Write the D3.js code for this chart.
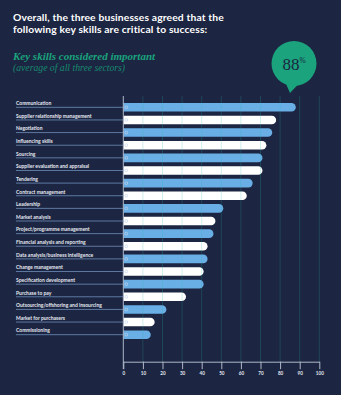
<!DOCTYPE html>
<html>
<head>
<meta charset="utf-8">
<script src="https://cdn.jsdelivr.net/npm/d3@7"></script>
<style>
  body { margin: 0; background: #1c2541; }
  svg { display: block; }
</style>
</head>
<body>
<svg id="skills"></svg>
<script>
// skills, top to bottom, and share that rated them important (%)
const skills = [
  "Communication",
  "Supplier relationship management",
  "Negotiation",
  "Influencing skills",
  "Sourcing",
  "Supplier evaluation and appraisal",
  "Tendering",
  "Contract management",
  "Leadership",
  "Market analysis",
  "Project/programme management",
  "Financial analysis and reporting",
  "Data analysis/business intelligence",
  "Change management",
  "Specification development",
  "Purchase to pay",
  "Outsourcing/offshoring and insourcing",
  "Market for purchasers",
  "Commissioning"
];
const values = [88, 78, 76, 73, 71, 71, 66, 63, 51, 47, 46, 43, 43, 41, 41, 32, 22, 16, 14];
const tickValues = [0, 10, 20, 30, 40, 50, 60, 70, 80, 90, 100];
const headline = 88;

const width = 341, height = 395;

let svg = d3.select("#skills")
    .attr("width", width)
    .attr("height", height);

svg.append("rect")
    .attr("width", width)
    .attr("height", height)
    .attr("fill", "#1c2541");

// title
let title = svg.append("text")
    .attr("x", 13)
    .attr("y", 20.5)
    .attr("fill", "#ffffff")
    .style("font-family", "Lato, sans-serif")
    .style("font-weight", "bold")
    .style("font-size", "10.3px")
    .style("letter-spacing", "0.15px");
title.append("tspan").text("Overall, the three businesses agreed that the");
title.append("tspan").attr("x", 13).attr("dy", 12).text("following key skills are critical to success:");

svg.append("text")
    .attr("x", 13)
    .attr("y", 60)
    .attr("fill", "#1aa37d")
    .style("font-family", "'Liberation Serif', serif")
    .style("font-style", "italic")
    .style("font-weight", "bold")
    .style("font-size", "11px")
    .text("Key skills considered important");

svg.append("text")
    .attr("x", 13)
    .attr("y", 70.5)
    .attr("fill", "#178a70")
    .style("font-family", "'Liberation Serif', serif")
    .style("font-style", "italic")
    .style("font-size", "9.7px")
    .text("(average of all three sectors)");

// speech bubble
let bubble = svg.append("g").attr("transform", "translate(294,63.5)");
bubble.append("path")
    .attr("d", "M-9,18 L-4,29.5 L5,20 Z")
    .attr("fill", "#1aa37d");
bubble.append("circle")
    .attr("r", 22.5)
    .attr("fill", "#1aa37d");
let big = bubble.append("text")
    .attr("x", 0)
    .attr("y", 6)
    .attr("text-anchor", "middle")
    .attr("fill", "#1c2541")
    .style("font-family", "'Liberation Serif', serif");
big.append("tspan").style("font-size", "17px").text(headline);
big.append("tspan").style("font-size", "7.5px").attr("dy", -7).text("%");

// scales
let x = d3.scaleLinear()
    .domain([0, 100])
    .range([123.3, 319.3]);

let y = d3.scaleBand()
    .domain(skills)
    .range([101, 341])
    .paddingInner(0.32)
    .paddingOuter(0.16);

const axisY = 361.7;
const bh = y.bandwidth();

// bars, right end rounded
svg.append("g")
    .selectAll("path")
    .data(values)
    .join("path")
    .attr("d", (d, i) => {
        let x0 = x(0), x1 = x(d), y0 = y(skills[i]), r = bh / 2;
        return `M${x0},${y0} H${x1 - r} A${r},${r} 0 0 1 ${x1 - r},${y0 + bh} H${x0} Z`;
    })
    .attr("fill", (d, i) => i % 2 === 0 ? "#6aaee6" : "#ffffff");

// gridlines over the bars
svg.append("g")
    .selectAll("line")
    .data(tickValues.slice(1))
    .join("line")
    .attr("x1", d => x(d))
    .attr("x2", d => x(d))
    .attr("y1", 96)
    .attr("y2", axisY)
    .attr("stroke", "rgb(40,185,175)")
    .attr("stroke-opacity", 0.22)
    .attr("stroke-width", 1);

// leader lines and labels
let rows = svg.append("g")
    .selectAll("g")
    .data(skills)
    .join("g")
    .attr("transform", d => `translate(0,${y(d) + bh / 2})`);

rows.append("line")
    .attr("x1", 16)
    .attr("x2", x(0))
    .attr("stroke", "#6f8fbb")
    .attr("stroke-width", 0.8);

rows.append("text")
    .attr("x", 16)
    .attr("y", -2.2)
    .attr("fill", "#e6eaf2")
    .style("font-family", "Lato, sans-serif")
    .style("font-weight", "bold")
    .style("font-size", "5px")
    .text(d => d);

rows.append("circle")
    .attr("cx", x(0) + 3)
    .attr("r", 1.4)
    .attr("fill", "none")
    .attr("stroke", "#c4d6ea")
    .attr("stroke-width", 0.7);

// axes
svg.append("line")
    .attr("x1", x(0))
    .attr("x2", x(0))
    .attr("y1", 96)
    .attr("y2", axisY + 7.5)
    .attr("stroke", "#aeb8c8")
    .attr("stroke-width", 1);

let xAxis = d3.axisBottom(x)
    .tickValues(tickValues)
    .tickSize(7.5)
    .tickSizeOuter(0)
    .tickPadding(3);

let gx = svg.append("g")
    .attr("transform", `translate(0,${axisY})`)
    .call(xAxis);

gx.select(".domain").attr("stroke", "#aeb8c8");
gx.selectAll(".tick line").attr("stroke", "#aeb8c8");
gx.selectAll(".tick text")
    .attr("fill", "#e6eaf2")
    .style("font-family", "Lato, sans-serif")
    .style("font-weight", "bold")
    .style("font-size", "4.6px");
</script>
</body>
</html>
